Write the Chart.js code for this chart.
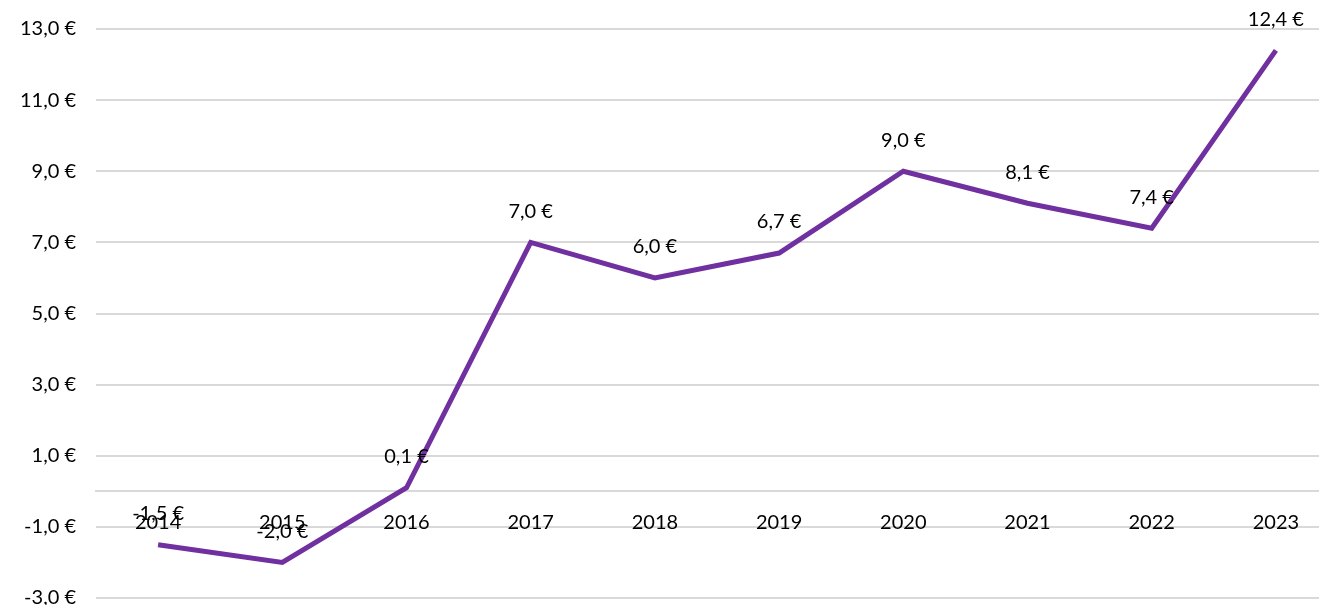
<!DOCTYPE html>
<html>
<head>
<meta charset="utf-8">
<script src="https://cdn.jsdelivr.net/npm/chart.js@4"></script>
<style>
  html, body { margin: 0; padding: 0; background: #fff; overflow: hidden; }
  #wrap { position: relative; width: 1345px; height: 633px; margin-top: -3px; }
</style>
</head>
<body>
<div id="wrap"><canvas id="epsChart"></canvas></div>
<script>
// values
const years = ['2014', '2015', '2016', '2017', '2018', '2019', '2020', '2021', '2022', '2023'];
const values = [-1.5, -2.0, 0.1, 7.0, 6.0, 6.7, 9.0, 8.1, 7.4, 12.4];
const yMin = -3;
const yMax = 13;
const yStep = 2;

const fontFamily = 'Lato, "Open Sans", sans-serif';

function euro(v) {
  return v.toFixed(1).replace('.', ',') + ' €';
}

// draws the value above each point
const valueLabels = {
  id: 'valueLabels',
  afterDatasetsDraw(chart) {
    const ctx = chart.ctx;
    const meta = chart.getDatasetMeta(0);
    ctx.save();
    ctx.font = '20px ' + fontFamily;
    ctx.fillStyle = '#000';
    ctx.textAlign = 'center';
    ctx.textBaseline = 'middle';
    meta.data.forEach((pt, i) => {
      ctx.fillText(euro(values[i]), pt.x, pt.y - 31);
    });
    ctx.restore();
  }
};

const ctx = document.getElementById('epsChart').getContext('2d');
new Chart(ctx, {
  type: 'line',
  data: {
    labels: years,
    datasets: [{
      data: values,
      borderColor: '#7030A0',
      borderWidth: 5,
      pointRadius: 0,
      fill: false,
      tension: 0
    }]
  },
  options: {
    responsive: true,
    maintainAspectRatio: false,
    animation: false,
    layout: { padding: { top: 22, bottom: 0, right: 7, left: 0 } },
    plugins: {
      legend: { display: false },
      tooltip: { enabled: false }
    },
    scales: {
      x: {
        position: { y: 0 },
        offset: true,
        afterFit(scale) { scale.height = 0; },
        grid: { display: false, drawTicks: false },
        border: { display: true, color: '#d9d9d9', width: 2 },
        ticks: {
          color: '#000',
          padding: 19,
          font: { family: fontFamily, size: 20 }
        }
      },
      y: {
        min: yMin,
        max: yMax,
        border: { display: false },
        grid: { color: '#d9d9d9', lineWidth: 2, drawTicks: false },
        afterFit(scale) { scale.width = 96; },
        ticks: {
          stepSize: yStep,
          color: '#000',
          padding: 20,
          font: { family: fontFamily, size: 20 },
          callback: v => euro(v)
        }
      }
    }
  },
  plugins: [valueLabels]
});
</script>
</body>
</html>
